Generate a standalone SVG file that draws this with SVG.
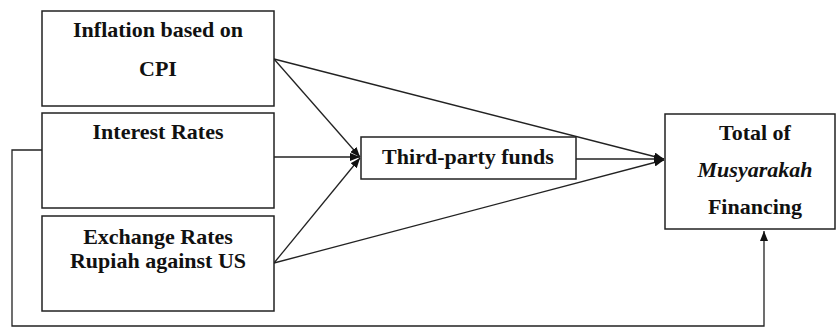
<svg xmlns="http://www.w3.org/2000/svg" width="837" height="329" viewBox="0 0 837 329">
<style>
.box{fill:#fff;stroke:#222;stroke-width:1.5}
.t{font-family:"Liberation Serif",serif;font-weight:bold;font-size:22px;fill:#111;text-anchor:middle}
.c{fill:none;stroke:#222;stroke-width:1.3}
</style>
<defs>
<marker id="ah" markerWidth="10" markerHeight="8" refX="10" refY="4" orient="auto" markerUnits="userSpaceOnUse">
<path d="M0,0 L10,4 L0,8 Z" fill="#111"/>
</marker>
</defs>
<rect width="837" height="329" fill="#fff"/>
<g id="connectors">
<path class="c" d="M42,150 H12 V326 H764 V231" marker-end="url(#ah)"/>
<line class="c" x1="274" y1="59" x2="664" y2="159" marker-end="url(#ah)"/>
<line class="c" x1="274" y1="59" x2="360" y2="157" marker-end="url(#ah)"/>
<line class="c" x1="274" y1="157" x2="360" y2="157" marker-end="url(#ah)"/>
<line class="c" x1="274" y1="263" x2="360" y2="158" marker-end="url(#ah)"/>
<line class="c" x1="274" y1="263" x2="664" y2="160" marker-end="url(#ah)"/>
<line class="c" x1="576" y1="159" x2="664" y2="159" marker-end="url(#ah)"/>
</g>
<g id="inflation">
<rect class="box" x="42" y="11" width="232" height="95"/>
<text class="t" x="158" y="37">Inflation based on</text>
<text class="t" x="158" y="76">CPI</text>
</g>
<g id="interest">
<rect class="box" x="42" y="113" width="232" height="95"/>
<text class="t" x="158" y="139">Interest Rates</text>
</g>
<g id="exchange">
<rect class="box" x="42" y="216" width="232" height="95"/>
<text class="t" x="158" y="244">Exchange Rates</text>
<text class="t" x="158" y="268">Rupiah against US</text>
</g>
<g id="thirdparty">
<rect class="box" x="361" y="137" width="215" height="42"/>
<text class="t" x="468" y="164">Third-party funds</text>
</g>
<g id="total">
<rect class="box" x="665" y="114" width="170" height="115"/>
<text class="t" x="755" y="140">Total of</text>
<text class="t" x="755" y="177" font-style="italic" font-weight="normal">Musyarakah</text>
<text class="t" x="755" y="214">Financing</text>
</g>
</svg>
